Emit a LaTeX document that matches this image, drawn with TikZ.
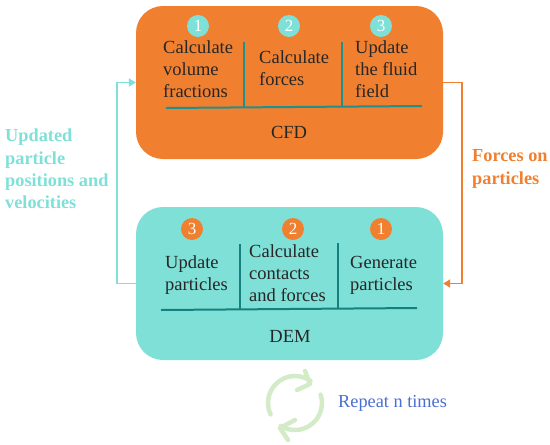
\documentclass[tikz,border=0pt]{standalone}
\usepackage{xcolor}
\usepackage{fontspec}
\setmainfont{Liberation Serif}
\usetikzlibrary{arrows.meta, positioning}

\definecolor{cfdorange}{HTML}{F08030}
\definecolor{demteal}{HTML}{7FE0D8}
\definecolor{cfdrule}{HTML}{1F8F8F}
\definecolor{demrule}{HTML}{17807C}
\definecolor{cycgreen}{HTML}{D3EBC6}
\definecolor{repblue}{HTML}{4A6FD0}

\tikzset{
  panel/.style={draw=none, rectangle, rounded corners=27pt, minimum width=307pt, minimum height=153pt, inner sep=0pt},
  badge/.style={circle, minimum size=22pt, inner sep=0pt, text=white, font=\fontsize{17}{17}\selectfont},
  steptext/.style={align=left, inner sep=0pt, text=black!85, font=\fontsize{18.5}{22}\selectfont},
  looptext/.style={align=left, inner sep=0pt, font=\bfseries\fontsize{18.3}{22.3}\selectfont},
  link/.style={line width=1.8pt, -{Triangle[length=7pt, width=8pt]}},
  cycarc/.style={draw=cycgreen, line width=4.5pt, line cap=round, line join=round}
}

\begin{document}
\begin{tikzpicture}[x=1pt, y=-1pt]
\useasboundingbox (0,0) rectangle (550,445);

\node[panel, fill=cfdorange] (cfd) at (289.5,82.5) {};
\node[panel, fill=demteal] (dem) at (289.5,283.5) {};

% numbered badges
\node[badge, fill=demteal] (c1) at (198,26) {1};
\node[badge, fill=demteal] (c2) at (289,26) {2};
\node[badge, fill=demteal] (c3) at (381,26) {3};
\node[badge, fill=cfdorange] (d3) at (192,229) {3};
\node[badge, fill=cfdorange] (d2) at (293,229) {2};
\node[badge, fill=cfdorange] (d1) at (381,229) {1};

% step texts
\node[steptext, anchor=west] (calcvol) at (163,69.5) {Calculate\\volume\\fractions};
\node[steptext, anchor=west] (calcforce) at (259,68) {Calculate\\forces};
\node[steptext, anchor=west] (updfluid) at (355,69.5) {Update\\the fluid\\field};
\node[steptext, anchor=west] (updpart) at (165,275) {Update\\particles};
\node[steptext, anchor=west] (calccont) at (249,273) {Calculate\\contacts\\and forces};
\node[steptext, anchor=west] (genpart) at (350,275) {Generate\\particles};

\node[steptext, below=89pt of c2] (cfdname) {CFD};
\node[steptext, below=90pt of d2, xshift=-3pt] (demname) {DEM};

% rules inside the panels
\draw[cfdrule, line width=2pt] (166,108) -- (422,106);
\draw[cfdrule, line width=2pt] (244,42) -- (244,107);
\draw[cfdrule, line width=2pt] (342,42) -- (342,106);
\draw[demrule, line width=2pt] (161,310) -- (417,308);
\draw[demrule, line width=2pt] (240,244) -- (240,310);
\draw[demrule, line width=2pt] (338,243) -- (338,308);

% feedback between the panels
\draw[link, demteal] (dem.west) -- ++(-19,0) |- (cfd.west);
\draw[link, cfdorange] (cfd.east) -- ++(19,0) |- (dem.east);

\node[looptext, text=demteal, anchor=west] (updated) at (5,169) {Updated\\particle\\positions and\\velocities};
\node[looptext, text=cfdorange, anchor=west] (forces) at (472,169) {Forces on\\particles};

% repeat symbol
\coordinate (cyc) at (295,403);
\coordinate (tipa) at (310,384);
\coordinate (tipb) at (280,428);
\draw[cycarc] (cyc) ++(205:27pt) arc[start angle=205, end angle=55, radius=27pt];
\draw[cycarc] (cyc) ++(18:27pt) arc[start angle=18, end angle=-122, radius=27pt];
\draw[cycarc] (305,371) -- (tipa) -- (297,390);
\draw[cycarc] (288,440) -- (tipb) -- (295,420);

\node[right=43pt of cyc, anchor=west, inner sep=0pt, text=repblue, font=\fontsize{18.3}{20}\selectfont] (repeat) {Repeat n times};
\end{tikzpicture}
\end{document}
